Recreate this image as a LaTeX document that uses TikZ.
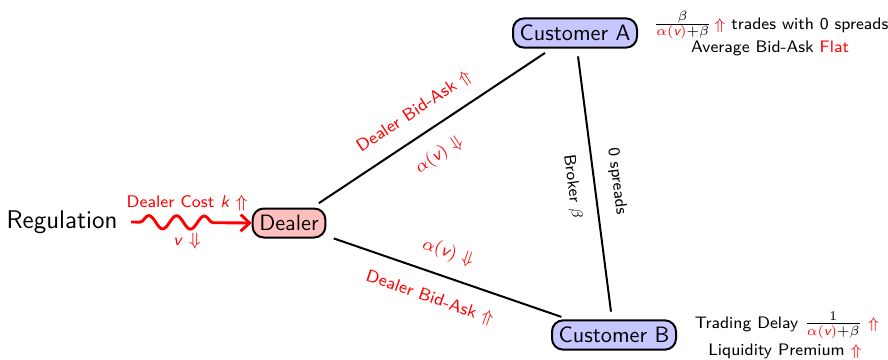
\documentclass[tikz,border=0pt]{standalone}
\usepackage{amsmath}
\usetikzlibrary{decorations.pathmorphing,arrows.meta}
\newcommand{\bigfr}[1]{{\fontsize{8.7}{10}\selectfont #1}}
\begin{document}
\begin{tikzpicture}[x=0.45pt,y=-0.45pt,font=\sffamily,
  agent/.style={draw,line width=0.9pt,rounded corners=5pt,inner sep=3pt,minimum height=13pt},
  custbox/.style={agent,fill=blue!22},
  dealbox/.style={agent,fill=red!25},
  link/.style={line width=0.9pt,shorten >=3.5pt,shorten <=3.5pt},
  lbl/.style={text=red,font=\sffamily\fontsize{7.8}{9}\selectfont,sloped},
  blbl/.style={font=\sffamily\fontsize{7.4}{9}\selectfont,sloped},
  note/.style={font=\sffamily\fontsize{7.5}{9}\selectfont,inner sep=1pt}]
\useasboundingbox (0,0) rectangle (888,359);
\node[custbox] (A) at (575,33) {Customer A};
\node[dealbox] (D) at (289,223) {Dealer};
\node[custbox] (B) at (614,335) {Customer B};
\node[font=\sffamily\fontsize{11.5}{14}\selectfont] (R) at (62,222) {Regulation};
\draw[link] (D) -- node[lbl,pos=0.48,above=3pt] {Dealer Bid-Ask $\Uparrow$} node[lbl,pos=0.47,below=4pt] {$\alpha(\textit{v})$ $\Downarrow$} (A);
\draw[link] (D) -- node[lbl,pos=0.47,above=3pt] {$\alpha(\textit{v})$ $\Downarrow$} node[lbl,pos=0.46,below=4pt] {Dealer Bid-Ask $\Uparrow$} (B);
\draw[link] (A) -- node[blbl,above=3pt] {0 spreads} node[blbl,below=3pt] {Broker $\beta$} (B);
\draw[red,line width=1.3pt,-{Straight Barb[length=4pt,width=7.5pt]},
  decorate,decoration={snake,amplitude=3pt,segment length=12.5pt,pre length=4pt,post length=12pt}]
  (R.east) ++(6,0) coordinate (w0) (w0) -- (D.west);
\node[text=red,font=\sffamily\fontsize{7.6}{9}\selectfont] (dc) at (187,203) {Dealer Cost \textit{k} $\Uparrow$};
\node[text=red,font=\sffamily\fontsize{7.6}{9}\selectfont] (vv) at (187,241) {\textit{v} $\Downarrow$};
\node[note] (na1) at (771,25) {\bigfr{$\frac{\beta}{\textcolor{red}{\alpha(\textit{v})}+\beta}$}\,\textcolor{red}{$\Uparrow$} trades with 0 spreads};
\node[note] (na2) at (770,48) {Average Bid-Ask \textcolor{red}{Flat}};
\node[note] (nb1) at (787,325) {Trading Delay \bigfr{$\frac{1}{\textcolor{red}{\alpha(\textit{v})}+\beta}$} \textcolor{red}{$\Uparrow$}};
\node[note] (nb2) at (785,351) {Liquidity Premium \textcolor{red}{$\Uparrow$}};
\end{tikzpicture}
\end{document}
